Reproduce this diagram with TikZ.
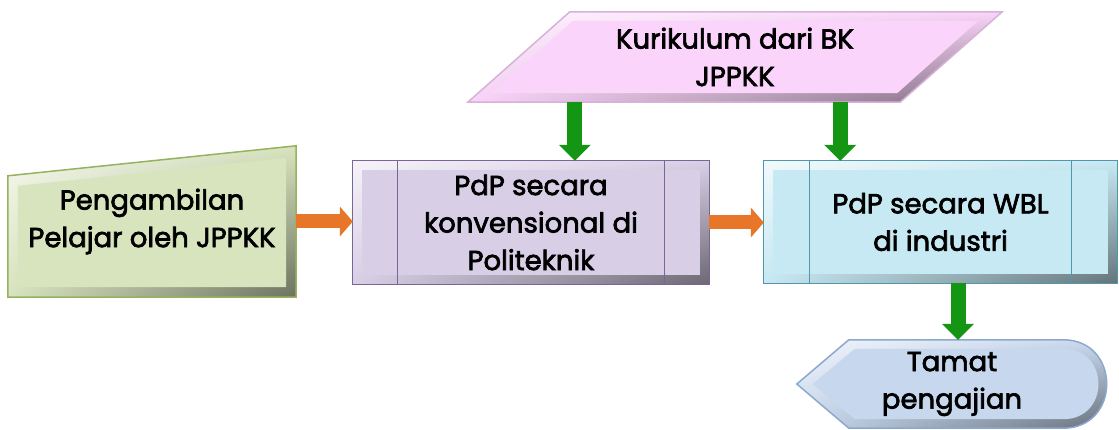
\documentclass[tikz,border=0pt]{standalone}
\usepackage{fontspec}
\setmainfont{Poppins}[BoldFont=Poppins, BoldFeatures={FakeBold=2.5}]
\usetikzlibrary{arrows.meta,calc,backgrounds,shadings}

\definecolor{intakefill}{RGB}{216,228,190}
\definecolor{intakeline}{RGB}{150,178,95}
\definecolor{konvfill}{RGB}{216,207,230}
\definecolor{konvline}{RGB}{122,102,150}
\definecolor{wblfill}{RGB}{199,233,243}
\definecolor{wblline}{RGB}{80,150,172}
\definecolor{kurikfill}{RGB}{250,212,250}
\definecolor{kurikline}{RGB}{214,178,214}
\definecolor{tamatfill}{RGB}{198,215,238}
\definecolor{tamatline}{RGB}{140,168,205}
\definecolor{arroworange}{RGB}{232,118,40}
\definecolor{arrowgreen}{RGB}{20,150,20}

\tikzset{
  flowtext/.style={align=center, inner sep=0pt, font=\fontsize{27.5}{37.5}\selectfont\bfseries},
  bevel/.style={upper left=#1!25!white, upper right=#1, lower left=#1, lower right=#1!50!black},
  orangearrow/.style={arroworange, line width=14pt,
    -{Triangle[width=30pt,length=13pt,line width=0pt]}},
  greenarrow/.style={arrowgreen, line width=15pt,
    -{Triangle[width=32pt,length=16pt,line width=0pt]}}
}

\begin{document}
\begin{tikzpicture}[x=1pt,y=-1pt]
\useasboundingbox (0,0) rectangle (1119,430);

% text of the steps
\node[flowtext, minimum width=288pt, minimum height=151pt] (intake) at (152,221.5)
  {Pengambilan\\Pelajar oleh JPPKK};
\node[flowtext, minimum width=356pt, minimum height=123pt] (konv) at (531,222.5)
  {PdP secara\\konvensional di\\Politeknik};
\node[flowtext, minimum width=353pt, minimum height=122pt] (wbl) at (940.5,222)
  {PdP secara WBL\\di industri};
\node[flowtext, minimum width=432pt, minimum height=90pt] (kurik) at (735,57)
  {Kurikulum dari BK\\JPPKK};
\node[flowtext, minimum width=310pt, minimum height=88pt] (tamat) at (952,384)
  {Tamat\\pengajian};

\begin{scope}[on background layer]
  % manual input
  \shade[bevel=intakefill] (intake.south west) -- (intake.south east) -- (intake.north east)
    -- ($(intake.north west)+(0,30)$) -- cycle;
  \fill[intakefill] ($(intake.south west)+(10,-10)$) -- ($(intake.south east)+(-10,-10)$)
    -- ($(intake.north east)+(-10,12)$) -- ($(intake.north west)+(10,40)$) -- cycle;
  \draw[intakeline, line width=1.5pt] (intake.south west) -- (intake.south east)
    -- (intake.north east) -- ($(intake.north west)+(0,30)$) -- cycle;

  % predefined processes
  \shade[bevel=konvfill] (konv.south west) rectangle (konv.north east);
  \fill[konvfill] ($(konv.south west)+(9,-9)$) rectangle ($(konv.north east)+(-9,9)$);
  \draw[konvline, line width=1.2pt] (konv.south west) rectangle (konv.north east);
  \draw[konvline, line width=1.2pt] ($(konv.north west)+(45,0)$) -- ($(konv.south west)+(45,0)$);
  \draw[konvline, line width=1.2pt] ($(konv.north east)+(-45,0)$) -- ($(konv.south east)+(-45,0)$);

  \shade[bevel=wblfill] (wbl.south west) rectangle (wbl.north east);
  \fill[wblfill] ($(wbl.south west)+(9,-9)$) rectangle ($(wbl.north east)+(-9,9)$);
  \draw[wblline, line width=1.2pt] (wbl.south west) rectangle (wbl.north east);
  \draw[wblline, line width=1.2pt] ($(wbl.north west)+(46,0)$) -- ($(wbl.south west)+(46,0)$);
  \draw[wblline, line width=1.2pt] ($(wbl.north east)+(-46,0)$) -- ($(wbl.south east)+(-46,0)$);

  % data
  \shade[bevel=kurikfill] ($(kurik.south west)+(-51,0)$) -- ($(kurik.south east)+(-51,0)$)
    -- ($(kurik.north east)+(51,0)$) -- ($(kurik.north west)+(51,0)$) -- cycle;
  \fill[kurikfill] ($(kurik.south west)+(-27,-9)$) -- ($(kurik.south east)+(-54,-9)$)
    -- ($(kurik.north east)+(27,9)$) -- ($(kurik.north west)+(54,9)$) -- cycle;
  \draw[kurikline, line width=1.5pt] ($(kurik.south west)+(-51,0)$) -- ($(kurik.south east)+(-51,0)$)
    -- ($(kurik.north east)+(51,0)$) -- ($(kurik.north west)+(51,0)$) -- cycle;

  % display
  \shade[bevel=tamatfill] (tamat.west) -- ($(tamat.north west)+(52,0)$) -- ($(tamat.north east)+(-44,0)$)
    .. controls ($(tamat.north east)+(14,0)$) and ($(tamat.south east)+(14,0)$) .. ($(tamat.south east)+(-44,0)$)
    -- ($(tamat.south west)+(52,0)$) -- cycle;
  \fill[tamatfill] ($(tamat.west)+(16,0)$) -- ($(tamat.north west)+(58,9)$) -- ($(tamat.north east)+(-44,9)$)
    .. controls ($(tamat.north east)+(3,9)$) and ($(tamat.south east)+(3,-9)$) .. ($(tamat.south east)+(-44,-9)$)
    -- ($(tamat.south west)+(58,-9)$) -- cycle;
  \draw[tamatline, line width=1.5pt] (tamat.west) -- ($(tamat.north west)+(52,0)$) -- ($(tamat.north east)+(-44,0)$)
    .. controls ($(tamat.north east)+(14,0)$) and ($(tamat.south east)+(14,0)$) .. ($(tamat.south east)+(-44,0)$)
    -- ($(tamat.south west)+(52,0)$) -- cycle;
\end{scope}

% connectors
\coordinate (k1) at ($(kurik.south west)+(56,0)$);
\coordinate (k2) at ($(kurik.south east)+(-111,0)$);
\coordinate (t1) at ($(tamat.north)+(6,0)$);
\draw[orangearrow] (intake.east) -- (intake.east -| konv.west);
\draw[orangearrow] (konv.east) -- (konv.east -| wbl.west);
\draw[greenarrow] (k1) -- (k1 |- konv.north);
\draw[greenarrow] (k2) -- (k2 |- wbl.north);
\draw[greenarrow] (t1 |- wbl.south) -- (t1);
\end{tikzpicture}
\end{document}
